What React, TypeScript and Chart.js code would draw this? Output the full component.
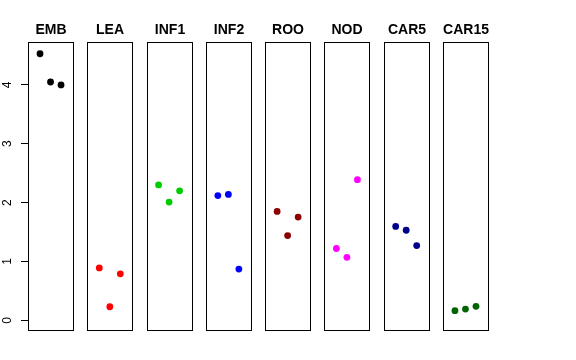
import React, { useEffect, useRef } from "react";
import { Chart, registerables } from "chart.js";
Chart.register(...registerables);

const groups = ["EMB", "LEA", "INF1", "INF2", "ROO", "NOD", "CAR5", "CAR15"];
const colors = ["#000000", "#FF0000", "#00CD00", "#0000FF", "#8B0000", "#FF00FF", "#00008B", "#006400"];

const emb = [4.53, 4.05, 4.0];
const lea = [0.89, 0.23, 0.79];
const inf1 = [2.3, 2.01, 2.2];
const inf2 = [2.12, 2.14, 0.87];
const roo = [1.85, 1.44, 1.755];
const nod = [1.22, 1.07, 2.39];
const car5 = [1.595, 1.53, 1.27];
const car15 = [0.163, 0.19, 0.237];
const seriesValues = [emb, lea, inf1, inf2, roo, nod, car5, car15];

const yTicks = [0, 1, 2, 3, 4];

const PITCH = 5.638;
const X_LO = -0.143;
const X_HI = 4.143;
const Y_MIN = -0.165;
const Y_MAX = 4.73;

const panelPlugin = {
  id: "panels",
  beforeDatasetsDraw(chart: any) {
    const { ctx, chartArea, scales } = chart;
    const xs = scales.x;
    const ys = scales.y;
    ctx.save();
    ctx.strokeStyle = "#000";
    ctx.lineWidth = 1;
    const t = Math.round(chartArea.top) + 0.5;
    const b = Math.round(chartArea.bottom) + 0.5;
    groups.forEach((g, i) => {
      const l = Math.round(xs.getPixelForValue(i * PITCH + X_LO)) + 0.5;
      const r = Math.round(xs.getPixelForValue(i * PITCH + X_HI)) + 0.5;
      ctx.strokeRect(l, t, r - l, b - t);
      ctx.font = "bold 14px 'Liberation Sans', Arial, sans-serif";
      ctx.textAlign = "center";
      ctx.textBaseline = "middle";
      ctx.fillStyle = "#000";
      ctx.fillText(g, (l + r) / 2, 30);
    });
    ctx.font = "12px 'Liberation Sans', Arial, sans-serif";
    ctx.textAlign = "center";
    ctx.textBaseline = "middle";
    yTicks.forEach((v) => {
      const py = ys.getPixelForValue(v);
      ctx.save();
      ctx.translate(8, py);
      ctx.rotate(-Math.PI / 2);
      ctx.fillText(String(v), 0, 0);
      ctx.restore();
    });
    ctx.restore();
  },
};

export default function App() {
  const ref = useRef<HTMLCanvasElement | null>(null);
  useEffect(() => {
    if (!ref.current) return;
    const chart = new Chart(ref.current, {
      type: "scatter",
      data: {
        datasets: groups.map((g, i) => ({
          label: g,
          data: seriesValues[i].map((v, j) => ({ x: i * PITCH + j + 1, y: v })),
          backgroundColor: colors[i],
          borderWidth: 0,
          pointRadius: 3.4,
          showLine: false,
        })),
      },
      options: {
        animation: false,
        responsive: false,
        layout: { padding: { left: 0, right: 88, top: 42, bottom: 30 } },
        plugins: { legend: { display: false }, tooltip: { enabled: false } },
        scales: {
          x: { type: "linear", display: false, min: X_LO, max: 7 * PITCH + X_HI },
          y: {
            type: "linear",
            min: Y_MIN,
            max: Y_MAX,
            afterBuildTicks: (scale: any) => {
              scale.ticks = yTicks.map((v) => ({ value: v }));
            },
            afterFit: (scale: any) => {
              scale.width = 28;
            },
            ticks: { display: false },
            border: { display: false },
            grid: {
              drawOnChartArea: false,
              drawTicks: true,
              tickLength: 7,
              color: "#000",
              lineWidth: 1,
            },
          },
        },
      },
      plugins: [panelPlugin],
    });
    return () => chart.destroy();
  }, []);
  return (
    <div style={{ position: "fixed", left: 0, top: 0, width: 576, height: 360, background: "#fff" }}>
      <canvas ref={ref} width={576} height={360} />
    </div>
  );
}
